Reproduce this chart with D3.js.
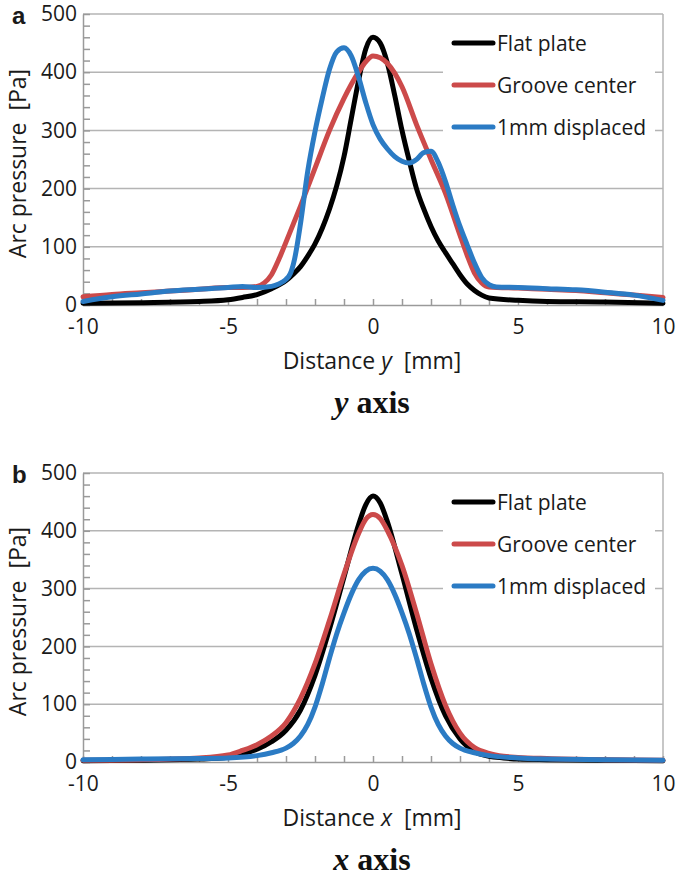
<!DOCTYPE html>
<html>
<head>
<meta charset="utf-8">
<script src="https://cdn.jsdelivr.net/npm/d3@7"></script>
<style>
  body { margin: 0; background: #fff; }
  svg { font-family: "Open Sans", sans-serif; }
</style>
</head>
<body>
<div id="chart"></div>
<script>
// [distance mm, arc pressure Pa]
const flatPlateY = [[-10,3],[-8,4],[-6,6],[-5,9],[-4.5,13],[-4,18],[-3.5,28],[-3,42],[-2.75,53],[-2.5,66],[-2.25,84],[-2,105],[-1.75,132],[-1.5,165],[-1.25,205],[-1,255],[-0.75,320],[-0.5,385],[-0.25,440],[0,460],[0.25,450],[0.5,415],[0.75,360],[1,300],[1.25,248],[1.5,200],[1.75,165],[2,135],[2.25,110],[2.5,90],[2.75,71],[3,52],[3.25,36],[3.5,25],[3.75,17],[4,12],[5,8],[6,6],[8,5],[10,3]];
const grooveCenterY = [[-10,14],[-9,18],[-8,21],[-7,24],[-6,27],[-5,30],[-4.5,30],[-4,32],[-3.75,38],[-3.5,52],[-3.25,78],[-3,108],[-2.5,170],[-2,235],[-1.5,300],[-1,355],[-0.5,400],[-0.25,418],[0,428],[0.25,425],[0.5,415],[1,375],[1.5,310],[2,250],[2.5,192],[3,120],[3.25,85],[3.5,55],[3.75,38],[4,31],[5,29],[6,27],[7,25],[8,21],[9,17],[10,13]];
const displacedY = [[-10,6],[-9,14],[-8,19],[-7,24],[-6,27],[-5,30],[-4.5,32],[-4,30],[-3.5,32],[-3.25,36],[-3,44],[-2.85,54],[-2.7,80],[-2.5,140],[-2.25,230],[-2,298],[-1.75,355],[-1.5,405],[-1.25,435],[-1,442],[-0.75,428],[-0.5,392],[-0.25,348],[0,310],[0.25,285],[0.5,268],[0.75,255],[1,247],[1.25,244],[1.5,250],[1.75,262],[2,264],[2.25,245],[2.5,212],[2.75,172],[3,135],[3.25,103],[3.5,72],[3.75,47],[4,35],[4.25,31],[5,30],[6,28],[7,26],[8,22],[9,17],[10,8]];

const flatPlateX = [[-10,2],[-8,3],[-6,5],[-5,8],[-4.5,14],[-4,22],[-3.5,35],[-3,55],[-2.5,90],[-2,150],[-1.5,230],[-1,320],[-0.5,410],[-0.25,445],[0,460],[0.25,448],[0.5,415],[1,325],[1.5,230],[2,145],[2.5,80],[3,40],[3.5,18],[4,10],[4.5,7],[5,5],[6,4],[8,3],[10,2]];
const grooveCenterX = [[-10,3],[-8,4],[-6,7],[-5,12],[-4.5,20],[-4,30],[-3.5,45],[-3,68],[-2.5,110],[-2,170],[-1.5,245],[-1,325],[-0.5,395],[-0.25,420],[0,428],[0.25,421],[0.5,400],[1,340],[1.5,258],[2,170],[2.5,98],[3,50],[3.5,25],[4,15],[4.5,10],[5,8],[6,6],[8,4],[10,3]];
const displacedX = [[-10,4],[-8,5],[-6,6],[-5,7],[-4,11],[-3.5,16],[-3,24],[-2.75,32],[-2.5,45],[-2.25,65],[-2,95],[-1.75,135],[-1.5,180],[-1.25,222],[-1,258],[-0.75,290],[-0.5,315],[-0.25,330],[0,335],[0.25,330],[0.5,315],[0.75,290],[1,258],[1.25,222],[1.5,180],[1.75,135],[2,95],[2.25,65],[2.5,45],[2.75,32],[3,24],[3.5,16],[4,11],[5,7],[6,5],[8,4],[10,3]];

const seriesNames = ["Flat plate", "Groove center", "1mm displaced"];
const seriesColors = ["#000000", "#cc4a4a", "#2b7bc4"];
const xTicks = [-10, -5, 0, 5, 10];
const yTicks = [0, 100, 200, 300, 400, 500];

const width = 677, height = 881;
const left = 83, right = 663;

const panels = [
    {label: "a", top: 14, bottom: 305, axisVar: "y", series: [flatPlateY, grooveCenterY, displacedY]},
    {label: "b", top: 473, bottom: 762, axisVar: "x", series: [flatPlateX, grooveCenterX, displacedX]}
];

const svg = d3.select("#chart")
    .append("svg")
    .attr("width", width)
    .attr("height", height);

const x = d3.scaleLinear().domain([-10, 10]).range([left, right]);

panels.forEach(p => {
    const y = d3.scaleLinear().domain([0, 500]).range([p.bottom, p.top]);
    const g = svg.append("g");

    // gridlines + frame
    g.selectAll(".grid")
        .data(yTicks.slice(1))
        .join("line")
        .attr("x1", left).attr("x2", right)
        .attr("y1", d => y(d)).attr("y2", d => y(d))
        .attr("stroke", "#b4b4b4")
        .attr("stroke-width", 1.5);
    g.append("line")
        .attr("x1", right).attr("x2", right)
        .attr("y1", y(0)).attr("y2", y(500))
        .attr("stroke", "#b4b4b4")
        .attr("stroke-width", 1.5);

    const yAxis = g.append("g")
        .attr("transform", `translate(${left},0)`)
        .call(d3.axisLeft(y)
            .tickValues(d3.range(0, 501, 20))
            .tickSize(-7)
            .tickSizeOuter(0)
            .tickPadding(6)
            .tickFormat(d => yTicks.includes(d) ? d : ""));
    const xAxis = g.append("g")
        .attr("transform", `translate(0,${y(0)})`)
        .call(d3.axisBottom(x)
            .tickValues(d3.range(-10, 11, 1))
            .tickSize(-6)
            .tickSizeOuter(0)
            .tickPadding(14)
            .tickFormat(d => xTicks.includes(d) ? d : ""));
    [yAxis, xAxis].forEach(a => {
        a.selectAll("path, line").attr("stroke", "#9a9a9a").attr("stroke-width", 1.5);
        a.selectAll("text")
            .attr("font-size", 21)
            .attr("font-family", "Open Sans")
            .attr("fill", "#1a1a1a");
    });

    // legend box sits over the gridlines
    g.append("rect")
        .attr("x", 443)
        .attr("y", p.top + 8)
        .attr("width", 212)
        .attr("height", 128)
        .attr("fill", "#fff");

    const line = d3.line()
        .x(d => x(d[0]))
        .y(d => y(d[1]))
        .curve(d3.curveMonotoneX);

    p.series.forEach((s, i) => {
        g.append("path")
            .datum(s)
            .attr("d", line)
            .attr("fill", "none")
            .attr("stroke", seriesColors[i])
            .attr("stroke-width", 5)
            .attr("stroke-linejoin", "round")
            .attr("stroke-linecap", "round");
    });

    seriesNames.forEach((name, i) => {
        const ly = p.top + 29 + i * 42;
        g.append("line")
            .attr("x1", 454).attr("x2", 493)
            .attr("y1", ly).attr("y2", ly)
            .attr("stroke", seriesColors[i])
            .attr("stroke-width", 5)
            .attr("stroke-linecap", "round");
        g.append("text")
            .text(name)
            .attr("x", 497)
            .attr("y", ly + 7.5)
            .attr("fill", "#1a1a1a")
            .attr("font-size", 21);
    });

    g.append("text")
        .text(p.label)
        .attr("x", 12)
        .attr("y", p.top + 10)
        .attr("fill", "#1a1a1a")
        .attr("font-family", "Liberation Sans, Arial, sans-serif")
        .attr("font-weight", "bold")
        .attr("font-size", 24);

    g.append("text")
        .attr("transform", `translate(26,${(p.top + p.bottom) / 2 + 4}) rotate(-90)`)
        .attr("text-anchor", "middle")
        .attr("fill", "#1a1a1a")
        .attr("font-size", 23)
        .attr("xml:space", "preserve")
        .text("Arc pressure  [Pa]");

    const xt = g.append("text")
        .attr("x", 372)
        .attr("y", p.bottom + 64)
        .attr("text-anchor", "middle")
        .attr("fill", "#1a1a1a")
        .attr("font-size", 23)
        .attr("xml:space", "preserve");
    xt.append("tspan").text("Distance ");
    xt.append("tspan").attr("font-style", "italic").text(p.axisVar);
    xt.append("tspan").text("  [mm]");

    const tt = g.append("text")
        .attr("x", 372)
        .attr("y", p.bottom + 108)
        .attr("text-anchor", "middle")
        .attr("fill", "#111")
        .attr("font-family", "Liberation Serif, Times New Roman, serif")
        .attr("font-weight", "bold")
        .attr("font-size", 32);
    tt.append("tspan").attr("font-style", "italic").text(p.axisVar);
    tt.append("tspan").text(" axis");
});
</script>
</body>
</html>
